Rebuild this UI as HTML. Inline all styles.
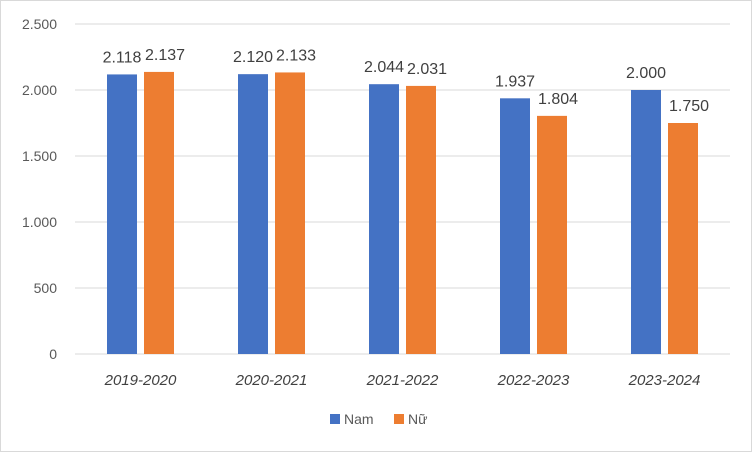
<!DOCTYPE html>
<html><head><meta charset="utf-8"><style>
body{margin:0;background:#fff}
svg{display:block;font-family:"Liberation Sans",Arial,sans-serif}
</style></head><body>
<svg id="chart" width="752" height="452" viewBox="0 0 752 452">
<rect x="0.5" y="0.5" width="751" height="451" fill="#fff" stroke="#d9d9d9"/>
<g id="grid"></g><g id="bars"></g><g id="labels"></g>
<g>
<rect x="330" y="414" width="10" height="10" fill="#4472c4"/>
<text x="344" y="424" font-size="14" fill="#595959">Nam</text>
<rect x="394" y="414" width="10" height="10" fill="#ed7d31"/>
<text x="408" y="424" font-size="14" fill="#595959">Nữ</text>
</g>
</svg>
<script>
const categories=["2019-2020","2020-2021","2021-2022","2022-2023","2023-2024"];
const namValues=[2118,2120,2044,1937,2000];
const nuValues=[2137,2133,2031,1804,1750];
const valueLabelsNam=["2.118","2.120","2.044","1.937","2.000"];
const valueLabelsNu=["2.137","2.133","2.031","1.804","1.750"];
const yTicks=[0,500,1000,1500,2000,2500];
const yTickLabels=["0","500","1.000","1.500","2.000","2.500"];
const NS="http://www.w3.org/2000/svg";
const x0=75,x1=730,y0=354,y1=24,yMax=2500;
const y=v=>y0-(v/yMax)*(y0-y1);
const band=(x1-x0)/categories.length;
const xc=i=>x0+band*(i+0.5);
function mk(tag,attrs,parent,txt){const e=document.createElementNS(NS,tag);for(const k in attrs)e.setAttribute(k,attrs[k]);if(txt!=null)e.textContent=txt;parent.appendChild(e);return e;}
const grid=document.getElementById('grid'),bars=document.getElementById('bars'),labels=document.getElementById('labels');
yTicks.forEach((t,i)=>{
 const l=mk('line',{x1:x0,x2:x1,y1:y(t),y2:y(t),stroke:'#d9d9d9','stroke-width':1},grid);
 
 
 const tx=mk('text',{x:57,y:y(t)+5,'text-anchor':'end','font-size':14,fill:'#595959'},grid,yTickLabels[i]);
 
 
});
const bw=30,gap=7;
categories.forEach((c,i)=>{
 const cx=xc(i);
 const b1=mk('rect',{x:cx-gap/2-bw,y:y(namValues[i]),width:bw,height:y0-y(namValues[i]),fill:'#4472c4'},bars);
 
 
 const b2=mk('rect',{x:cx+gap/2,y:y(nuValues[i]),width:bw,height:y0-y(nuValues[i]),fill:'#ed7d31'},bars);
 
 
 const t1=mk('text',{x:cx-gap/2-bw/2,y:y(namValues[i])-12,'text-anchor':'middle','font-size':16,fill:'#404040'},labels,valueLabelsNam[i]);
 
 
 const t2=mk('text',{x:cx+gap/2+bw/2+6,y:y(nuValues[i])-12,'text-anchor':'middle','font-size':16,fill:'#404040'},labels,valueLabelsNu[i]);
 
 
 const xl=mk('text',{x:cx,y:385,'text-anchor':'middle','font-size':15,'font-style':'italic',fill:'#404040'},labels,c);
 
 
});
</script>
</body></html>
